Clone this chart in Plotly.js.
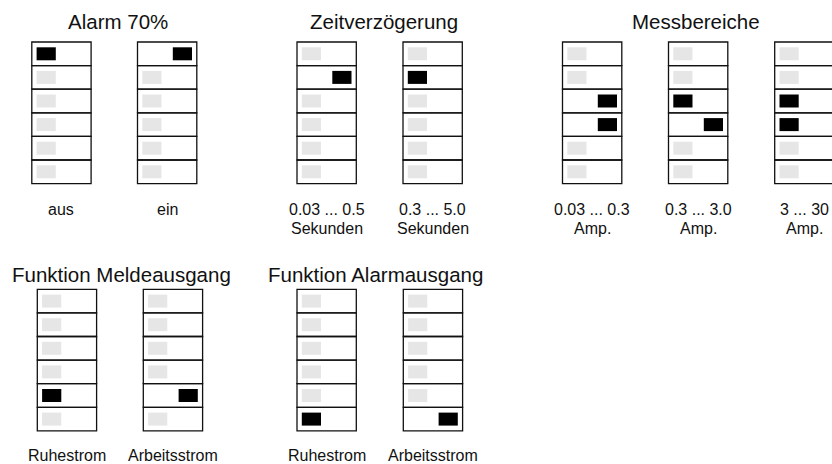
<!DOCTYPE html>
<html>
<head>
<meta charset="utf-8">
<script src="https://cdn.plot.ly/plotly-3.0.1.min.js"></script>
<style>html,body{margin:0;padding:0;background:#fff;}#chart{width:832px;height:464px;}</style>
</head>
<body>
<div id="chart"></div>
<script>
// ---- data ----
const groupTitles = ["Alarm 70%", "Zeitverzögerung", "Messbereiche", "Funktion Meldeausgang", "Funktion Alarmausgang"];
const switchLabels = [
  ["aus", "ein"],
  ["0.03 ... 0.5\nSekunden", "0.3 ... 5.0\nSekunden"],
  ["0.03 ... 0.3\nAmp.", "0.3 ... 3.0\nAmp.", "3 ... 30\nAmp."],
  ["Ruhestrom", "Arbeitsstrom"],
  ["Ruhestrom", "Arbeitsstrom"]
];
// switch states per row (6 rows): 0 = off (grey, left), 1 = on, lever left (black), 2 = on, lever right (black)
const switchStates = [
  [[1,0,0,0,0,0], [2,0,0,0,0,0]],
  [[0,2,0,0,0,0], [0,1,0,0,0,0]],
  [[0,0,2,2,0,0], [0,0,1,2,0,0], [0,0,1,1,0,0]],
  [[0,0,0,0,1,0], [0,0,0,0,2,0]],
  [[0,0,0,0,0,1], [0,0,0,0,0,2]]
];

// ---- layout (pixel positions) ----
const blockLeft = [[31.8, 137.5], [297, 403], [562.5, 668.5, 774.7], [37.3, 143.3], [297, 403.3]];
const blockTop = [42, 42, 42, 289.3, 289.3];
const titleX = [118, 384, 696, 121, 375];
const titleY = [21, 21, 21, 274, 274];
const labelY = [209.5, 209.5, 209.5, 455, 455];
const BW = 59.3, RH = 23.6, MW = 19.2, MH = 13, MP = 4.8;
const FONT = "Liberation Sans, Arial, Helvetica, sans-serif";

const shapes = [], annotations = [];
switchStates.forEach((grp, g) => {
  const xs = blockLeft[g];
  const top = blockTop[g];
  grp.forEach((rows, s) => {
    const x0 = xs[s], x1 = x0 + BW;
    rows.forEach((st, r) => {
      const y0 = top + r * RH, y1 = y0 + RH;
      shapes.push({type: "rect", xref: "x", yref: "y", x0: x0, x1: x1, y0: y0, y1: y1,
        line: {color: "#111", width: 1.3}, fillcolor: "rgba(0,0,0,0)", layer: "above"});
      const my0 = y0 + (RH - MH) / 2, my1 = my0 + MH;
      let mx0, color;
      if (st === 2) { mx0 = x1 - MP - MW; color = "#000"; }
      else { mx0 = x0 + MP; color = st === 1 ? "#000" : "#e6e6e6"; }
      shapes.push({type: "rect", xref: "x", yref: "y", x0: mx0, x1: mx0 + MW, y0: my0, y1: my1,
        line: {width: 0}, fillcolor: color, layer: "above"});
    });
    const lines = switchLabels[g][s].split("\n");
    lines.forEach((t, i) => {
      annotations.push({xref: "x", yref: "y", x: x0 + BW / 2, y: labelY[g] + i * 18.5, text: t,
        showarrow: false, xanchor: "center", yanchor: "middle",
        font: {family: FONT, size: 16, color: "#111"}});
    });
  });
  annotations.push({xref: "x", yref: "y", x: titleX[g], y: titleY[g], text: groupTitles[g],
    showarrow: false, xanchor: "center", yanchor: "middle",
    font: {family: FONT, size: 20.5, color: "#111"}});
});

const layout = {
  width: 832, height: 464,
  margin: {l: 0, r: 0, t: 0, b: 0},
  paper_bgcolor: "#fff", plot_bgcolor: "#fff",
  showlegend: false,
  xaxis: {range: [0, 832], visible: false, fixedrange: true},
  yaxis: {range: [464, 0], visible: false, fixedrange: true},
  shapes: shapes,
  annotations: annotations
};
Plotly.newPlot("chart", [{x: [0], y: [0], mode: "markers", marker: {opacity: 0}, hoverinfo: "skip"}], layout,
  {staticPlot: true, displayModeBar: false});
</script>
</body>
</html>
